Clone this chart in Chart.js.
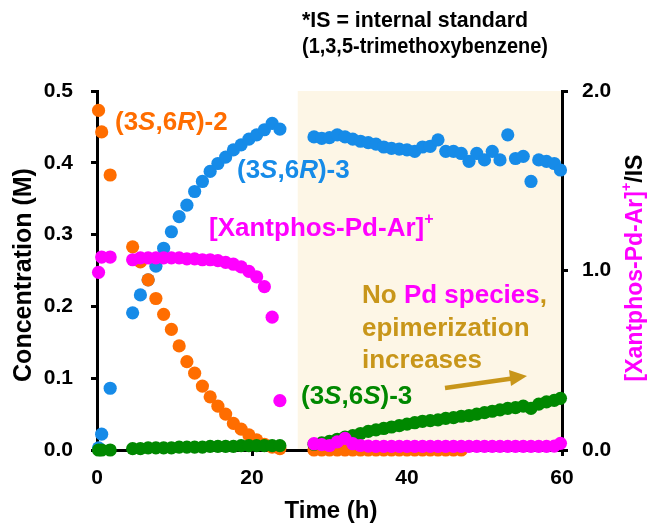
<!DOCTYPE html>
<html>
<head>
<meta charset="utf-8">
<script src="https://cdn.jsdelivr.net/npm/chart.js@4.4.1/dist/chart.umd.min.js"></script>
<style>
  html, body { margin: 0; padding: 0; background: #fff; }
</style>
</head>
<body>
<canvas id="chart" width="651" height="525"></canvas>
<script>
// time points (h)
const timeA = [0.2, 0.6, 1.7, 4.6, 5.6, 6.6, 7.6, 8.6, 9.6, 10.6, 11.6, 12.6, 13.6, 14.6, 15.6, 16.6, 17.6, 18.6, 19.6, 20.6, 21.6, 22.6, 23.6];
const timeB = [28, 29, 30, 31, 32, 33, 34, 35, 36, 37, 38, 39, 40, 41, 42, 43, 44, 45, 46, 47, 48, 49, 50, 51, 52, 53, 54, 55, 56, 57, 58, 59, 59.8];

// (3S,6R)-2, concentration (M)
const sr2A = [0.473, 0.443, 0.383, 0.283, 0.262, 0.237, 0.211, 0.189, 0.168, 0.145, 0.123, 0.107, 0.089, 0.074, 0.061, 0.050, 0.037, 0.029, 0.021, 0.014, 0.008, 0.004, 0.002];
const sr2B = [0, 0, 0, 0, 0, 0, 0, 0, 0, 0, 0, 0, 0, 0, 0, 0, 0, 0, 0, 0];

// (3S,6R)-3, concentration (M)
const sr3A = [0.003, 0.022, 0.086, 0.191, 0.216, 0.237, 0.256, 0.281, 0.304, 0.325, 0.341, 0.360, 0.374, 0.388, 0.399, 0.408, 0.418, 0.425, 0.433, 0.439, 0.446, 0.455, 0.447];
const sr3B = [0.436, 0.434, 0.435, 0.439, 0.436, 0.433, 0.430, 0.428, 0.426, 0.422, 0.420, 0.419, 0.418, 0.416, 0.422, 0.423, 0.432, 0.416, 0.416, 0.413, 0.402, 0.413, 0.404, 0.416, 0.404, 0.439, 0.406, 0.409, 0.374, 0.404, 0.402, 0.399, 0.390];

// (3S,6S)-3, concentration (M)
const ss3A = [0, 0, 0, 0.002, 0.002, 0.003, 0.003, 0.003, 0.003, 0.004, 0.004, 0.004, 0.004, 0.005, 0.005, 0.005, 0.005, 0.006, 0.006, 0.006, 0.006, 0.006, 0.006];
const ss3B = [0.008, 0.010, 0.012, 0.015, 0.018, 0.020, 0.023, 0.026, 0.028, 0.030, 0.032, 0.034, 0.036, 0.038, 0.040, 0.041, 0.042, 0.044, 0.045, 0.047, 0.048, 0.050, 0.052, 0.054, 0.056, 0.058, 0.059, 0.061, 0.058, 0.064, 0.067, 0.069, 0.072];

// [Xantphos-Pd-Ar]+ / IS (right axis)
const pdA = [0.99, 1.075, 1.075, 1.06, 1.07, 1.07, 1.07, 1.07, 1.07, 1.07, 1.065, 1.065, 1.06, 1.06, 1.055, 1.045, 1.035, 1.02, 0.995, 0.965, 0.91, 0.74, 0.275];
const pdB = [0.035, 0.03, 0.025, 0.045, 0.065, 0.035, 0.025, 0.022, 0.02, 0.02, 0.02, 0.02, 0.02, 0.02, 0.02, 0.02, 0.02, 0.02, 0.02, 0.02, 0.02, 0.02, 0.02, 0.02, 0.02, 0.02, 0.02, 0.02, 0.02, 0.02, 0.02, 0.022, 0.037];

// axis ticks
const xTicks = [0, 20, 40, 60];
const leftTicks = [0, 0.1, 0.2, 0.3, 0.4, 0.5];
const rightTicks = [0, 1, 2];
const noPdStart = 25.9; // shaded region start (h)

const ORANGE = "#ff6d00";
const BLUE = "#168be8";
const MAGENTA = "#ff00ff";
const GREEN = "#008800";
const GOLD = "#c8961a";
const FONT = "'Liberation Sans', Arial, sans-serif";

function pts(times, vals) {
  return vals.map((v, i) => ({ x: times[i], y: v }));
}

function series(label, data, color, axis, order) {
  return {
    label, data, yAxisID: axis, order,
    showLine: false, clip: false,
    pointRadius: 6.6, pointHoverRadius: 6.6,
    pointBackgroundColor: color, pointBorderWidth: 0,
    borderColor: color, backgroundColor: color
  };
}

// draw text made of differently styled pieces
function rich(ctx, parts, x, y, size, align) {
  let total = 0;
  parts.forEach(p => {
    const s = p.sup ? size * 0.62 : size;
    ctx.font = (p.italic ? "italic " : "") + "bold " + s + "px " + FONT;
    p.w = ctx.measureText(p.t).width;
    total += p.w;
  });
  let cx = align === "center" ? x - total / 2 : x;
  ctx.textBaseline = "middle";
  ctx.textAlign = "left";
  parts.forEach(p => {
    const s = p.sup ? size * 0.62 : size;
    ctx.font = (p.italic ? "italic " : "") + "bold " + s + "px " + FONT;
    ctx.fillStyle = p.c;
    ctx.fillText(p.t, cx, p.sup ? y - size * 0.38 : y);
    cx += p.w;
  });
}

const decor = {
  id: "decor",
  beforeDraw(chart) {
    const { ctx, chartArea, scales } = chart;
    const x0 = scales.x.getPixelForValue(noPdStart);
    ctx.save();
    ctx.fillStyle = "#fdf6e6";
    ctx.fillRect(x0, chartArea.top, chartArea.right - x0, chartArea.bottom - chartArea.top);
    ctx.restore();
  },
  afterDraw(chart) {
    const ctx = chart.ctx;
    ctx.save();
    // series labels
    rich(ctx, [{ t: "(3", c: ORANGE }, { t: "S", c: ORANGE, italic: true }, { t: ",6", c: ORANGE },
      { t: "R", c: ORANGE, italic: true }, { t: ")-2", c: ORANGE }], 115, 123, 26);
    rich(ctx, [{ t: "(3", c: BLUE }, { t: "S", c: BLUE, italic: true }, { t: ",6", c: BLUE },
      { t: "R", c: BLUE, italic: true }, { t: ")-3", c: BLUE }], 237, 171, 26);
    rich(ctx, [{ t: "[Xantphos-Pd-Ar]", c: MAGENTA }, { t: "+", c: MAGENTA, sup: true }], 209, 229, 26);
    rich(ctx, [{ t: "(3", c: GREEN }, { t: "S", c: GREEN, italic: true }, { t: ",6", c: GREEN },
      { t: "S", c: GREEN, italic: true }, { t: ")-3", c: GREEN }], 301, 397, 26);
    rich(ctx, [{ t: "No ", c: GOLD }, { t: "Pd species", c: MAGENTA }, { t: ",", c: GOLD }], 362, 296, 26);
    rich(ctx, [{ t: "epimerization", c: GOLD }], 362, 329, 26);
    rich(ctx, [{ t: "increases", c: GOLD }], 362, 361, 26);

    // arrow
    ctx.strokeStyle = GOLD;
    ctx.fillStyle = GOLD;
    ctx.lineWidth = 4.5;
    ctx.beginPath();
    ctx.moveTo(445, 388);
    ctx.lineTo(512, 378.5);
    ctx.stroke();
    ctx.beginPath();
    ctx.moveTo(527, 376);
    ctx.lineTo(509, 370);
    ctx.lineTo(511, 386);
    ctx.closePath();
    ctx.fill();

    // note
    ctx.fillStyle = "#000";
    ctx.font = "bold 22px 'Liberation Sans Narrow', " + FONT;
    ctx.textAlign = "left";
    ctx.textBaseline = "middle";
    ctx.fillText("*IS = internal standard", 302, 21, 226);
    ctx.fillText("(1,3,5-trimethoxybenzene)", 302, 47, 246);

    // axis titles
    ctx.font = "bold 24px " + FONT;
    ctx.textAlign = "center";
    ctx.fillText("Time (h)", 331, 511);
    ctx.save();
    ctx.translate(24, 275);
    ctx.rotate(-Math.PI / 2);
    ctx.font = "bold 25px " + FONT;
    ctx.fillText("Concentration (M)", 0, 0);
    ctx.restore();
    ctx.save();
    ctx.translate(636, 268);
    ctx.rotate(-Math.PI / 2);
    rich(ctx, [{ t: "[Xantphos-Pd-Ar]", c: MAGENTA }, { t: "+", c: MAGENTA, sup: true }, { t: "/IS", c: "#000" }], 0, 0, 23, "center");
    ctx.restore();
    ctx.restore();
  }
};

const axisGrid = { drawOnChartArea: false, drawTicks: true, tickLength: 6, color: "#000", lineWidth: 3 };
const axisBorder = { display: true, color: "#000", width: 3 };
const tickFont = { family: FONT, weight: "bold", size: 21 };

new Chart(document.getElementById("chart"), {
  type: "scatter",
  data: {
    datasets: [
      series("[Xantphos-Pd-Ar]+ A", pts(timeA, pdA), MAGENTA, "y2", 0),
      series("[Xantphos-Pd-Ar]+ B", pts(timeB, pdB), MAGENTA, "y2", 0),
      series("(3S,6S)-3 A", pts(timeA, ss3A), GREEN, "y", 1),
      series("(3S,6S)-3 B", pts(timeB, ss3B), GREEN, "y", 1),
      series("(3S,6R)-2 A", pts(timeA, sr2A), ORANGE, "y", 2),
      series("(3S,6R)-2 B", pts(timeB.slice(0, sr2B.length), sr2B), ORANGE, "y", 2),
      series("(3S,6R)-3 A", pts(timeA, sr3A), BLUE, "y", 3),
      series("(3S,6R)-3 B", pts(timeB, sr3B), BLUE, "y", 3)
    ]
  },
  options: {
    responsive: false,
    animation: false,
    devicePixelRatio: 1,
    layout: { padding: { top: 91, left: 0, right: 0, bottom: 0 } },
    plugins: { legend: { display: false }, tooltip: { enabled: false } },
    scales: {
      x: {
        type: "linear", min: 0, max: 60,
        afterFit: s => { s.height = 75; },
        afterBuildTicks: s => { s.ticks = xTicks.map(v => ({ value: v })); },
        grid: axisGrid, border: axisBorder,
        ticks: { color: "#000", font: tickFont, padding: 10, maxRotation: 0, callback: v => String(v) }
      },
      y: {
        type: "linear", position: "left", min: 0, max: 0.5,
        afterFit: s => { s.width = 97; },
        afterBuildTicks: s => { s.ticks = leftTicks.map(v => ({ value: v })); },
        grid: axisGrid, border: axisBorder,
        ticks: { color: "#000", font: tickFont, padding: 18, callback: v => v.toFixed(1) }
      },
      y2: {
        type: "linear", position: "right", min: 0, max: 2,
        afterFit: s => { s.width = 89; },
        afterBuildTicks: s => { s.ticks = rightTicks.map(v => ({ value: v })); },
        grid: axisGrid, border: axisBorder,
        ticks: { color: "#000", font: tickFont, padding: 14, callback: v => v.toFixed(1) }
      }
    }
  },
  plugins: [decor]
});
</script>
</body>
</html>
